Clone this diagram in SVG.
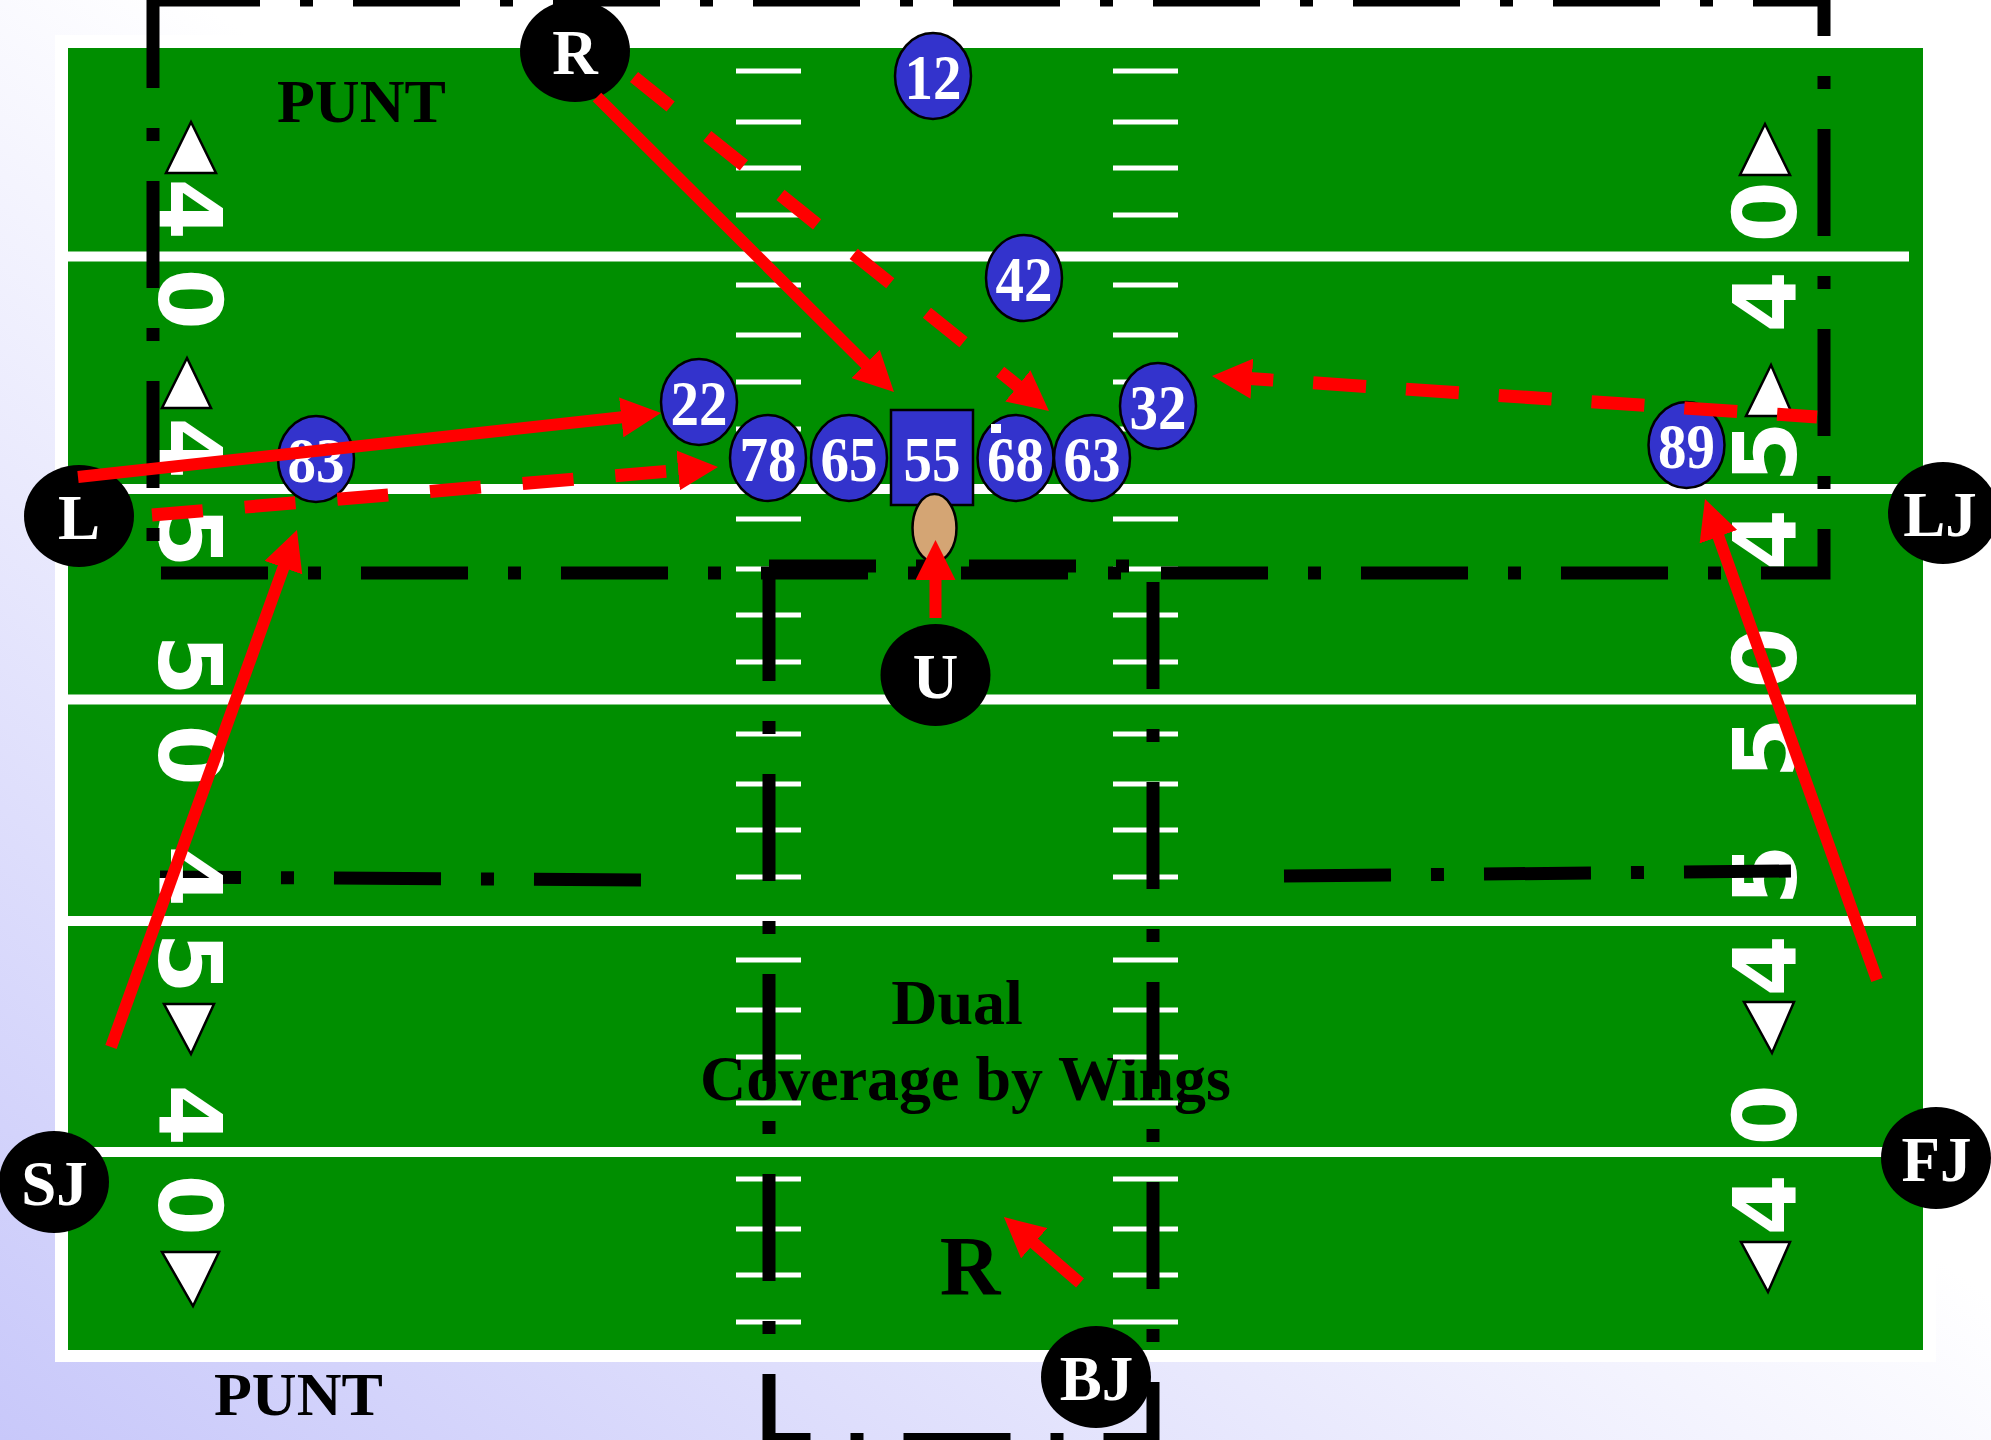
<svg xmlns="http://www.w3.org/2000/svg" width="1991" height="1440" viewBox="0 0 1991 1440">
<defs>
<linearGradient id="bg" x1="0" y1="1" x2="1" y2="0">
<stop offset="0" stop-color="#C8C8FA"/>
<stop offset="0.55" stop-color="#FFFFFF"/>
<stop offset="1" stop-color="#FFFFFF"/>
</linearGradient>
<marker id="ah" markerUnits="userSpaceOnUse" viewBox="0 0 40 40" markerWidth="40" markerHeight="40" refX="10" refY="20" orient="auto">
<path d="M0,0 L40,20 L0,40 z" fill="#FF0000"/>
</marker>
</defs>
<style>
.yl{stroke:#fff;stroke-width:10;fill:none}
.hash{stroke:#fff;stroke-width:5;fill:none}
.yn{font-family:"DejaVu Sans","Liberation Sans",sans-serif;font-weight:bold;font-size:88px;fill:#fff;text-anchor:middle}
.tri{fill:#fff;stroke:#000;stroke-width:2.5}
.dd{fill:none;stroke:#000;stroke-width:13;stroke-dasharray:107 40 13 40}
.lbl{font-family:"Liberation Serif","Times New Roman",serif;font-weight:bold;fill:#000}
.pl{fill:#3333CC;stroke:#000;stroke-width:2.5}
.pn{font-family:"Liberation Serif","Times New Roman",serif;font-weight:bold;font-size:64px;fill:#fff;text-anchor:middle}
.of{fill:#000}
.on{font-family:"Liberation Serif","Times New Roman",serif;font-weight:bold;font-size:63px;fill:#fff;text-anchor:middle}
.rs{fill:none;stroke:#FF0000;stroke-width:12;marker-end:url(#ah)}
.rd{fill:none;stroke:#FF0000;stroke-width:13;marker-end:url(#ah)}
</style>
<rect x="0" y="0" width="1991" height="1440" fill="url(#bg)"/>
<g id="field">
<rect x="55" y="35" width="1881" height="1327" fill="#fff"/>
<rect x="68" y="48" width="1855" height="1302" fill="#008E00"/>
<text class="lbl" x="277" y="122" font-size="62">PUNT</text>
<text class="lbl" x="214" y="1415" font-size="62">PUNT</text>
<text class="lbl" x="957" y="1024" font-size="64" text-anchor="middle">Dual</text>
<text class="lbl" x="965.5" y="1100" font-size="64" text-anchor="middle">Coverage by Wings</text>
<text class="lbl" x="970" y="1295" font-size="84" text-anchor="middle">R</text>
<path class="yl" d="M68,256.5 H1909 M68,489 H1923 M68,699.5 H1916 M68,921 H1916 M68,1152 H1916"/>
<path class="hash" d="M736,71 H801 M1113,71 H1178 M736,122 H801 M1113,122 H1178 M736,168 H801 M1113,168 H1178 M736,215 H801 M1113,215 H1178 M736,285 H801 M1113,285 H1178 M736,335 H801 M1113,335 H1178 M736,382 H801 M1113,382 H1178 M736,429 H801 M1113,429 H1178 M736,519 H801 M1113,519 H1178 M736,569 H801 M1113,569 H1178 M736,615 H801 M1113,615 H1178 M736,662 H801 M1113,662 H1178 M736,734 H801 M1113,734 H1178 M736,784 H801 M1113,784 H1178 M736,830 H801 M1113,830 H1178 M736,877 H801 M1113,877 H1178 M736,960 H801 M1113,960 H1178 M736,1010 H801 M1113,1010 H1178 M736,1057 H801 M1113,1057 H1178 M736,1103 H801 M1113,1103 H1178 M736,1179 H801 M1113,1179 H1178 M736,1229 H801 M1113,1229 H1178 M736,1275 H801 M1113,1275 H1178 M736,1322 H801 M1113,1322 H1178"/>
<path class="dd" d="M160,877 L641,880" stroke-dashoffset="26"/>
<g id="numbers-left">
<text class="yn" transform="translate(190.5,209) rotate(90)" y="32">4</text>
<text class="yn" transform="translate(190.5,299) rotate(90)" y="32">0</text>
<text class="yn" transform="translate(190.5,448) rotate(90)" y="32">4</text>
<text class="yn" transform="translate(190.5,537) rotate(90)" y="32">5</text>
<text class="yn" transform="translate(190.5,665) rotate(90)" y="32">5</text>
<text class="yn" transform="translate(190.5,755) rotate(90)" y="32">0</text>
<text class="yn" transform="translate(190.5,876) rotate(90)" y="32">4</text>
<text class="yn" transform="translate(190.5,963) rotate(90)" y="32">5</text>
<text class="yn" transform="translate(190.5,1115) rotate(90)" y="32">4</text>
<text class="yn" transform="translate(190.5,1205) rotate(90)" y="32">0</text>
</g>
<g id="numbers-right">
<text class="yn" transform="translate(1764,212) rotate(-90)" y="32">0</text>
<text class="yn" transform="translate(1764,302) rotate(-90)" y="32">4</text>
<text class="yn" transform="translate(1764,452) rotate(-90)" y="32">5</text>
<text class="yn" transform="translate(1764,540) rotate(-90)" y="32">4</text>
<text class="yn" transform="translate(1764,658) rotate(-90)" y="32">0</text>
<text class="yn" transform="translate(1764,748) rotate(-90)" y="32">5</text>
<text class="yn" transform="translate(1764,875) rotate(-90)" y="32">5</text>
<text class="yn" transform="translate(1764,966) rotate(-90)" y="32">4</text>
<text class="yn" transform="translate(1764,1115) rotate(-90)" y="32">0</text>
<text class="yn" transform="translate(1764,1205) rotate(-90)" y="32">4</text>
</g>
<g id="arrows-field">
<polygon class="tri" points="191,122 216,173 166,173"/>
<polygon class="tri" points="187,358 211,408 162,408"/>
<polygon class="tri" points="164,1004 214,1004 191,1054"/>
<polygon class="tri" points="162,1252 219,1252 193,1306"/>
<polygon class="tri" points="1765,124 1790,175 1740,175"/>
<polygon class="tri" points="1771,365 1793,416 1746,416"/>
<polygon class="tri" points="1744,1002 1794,1002 1772,1053"/>
<polygon class="tri" points="1741,1242 1790,1242 1768,1292"/>
</g>
<path class="dd" d="M153,0 H1824 V573 H153 V0"/>
<path class="dd" d="M769,566 H1153 V1439.5 H769 V566"/>
<path class="dd" d="M1284,876 L1791,871"/>
</g>
<g id="p12"><ellipse class="pl" cx="933" cy="76" rx="38" ry="43"/><text class="pn" x="933" y="99" textLength="57" lengthAdjust="spacingAndGlyphs">12</text></g>
<g id="p42"><ellipse class="pl" cx="1024" cy="278" rx="38" ry="43"/><text class="pn" x="1024" y="301" textLength="57" lengthAdjust="spacingAndGlyphs">42</text></g>
<g id="p22"><ellipse class="pl" cx="699" cy="402" rx="38" ry="43"/><text class="pn" x="699" y="425" textLength="57" lengthAdjust="spacingAndGlyphs">22</text></g>
<g id="p78"><ellipse class="pl" cx="768" cy="458" rx="38" ry="43"/><text class="pn" x="768" y="481" textLength="57" lengthAdjust="spacingAndGlyphs">78</text></g>
<g id="p65"><ellipse class="pl" cx="849" cy="458" rx="38" ry="43"/><text class="pn" x="849" y="481" textLength="57" lengthAdjust="spacingAndGlyphs">65</text></g>
<g id="p55"><rect class="pl" x="891" y="410" width="82" height="95"/><text class="pn" x="932" y="481" textLength="57" lengthAdjust="spacingAndGlyphs">55</text></g>
<g id="p68"><ellipse class="pl" cx="1015.5" cy="458" rx="38" ry="43"/><text class="pn" x="1015.5" y="481" textLength="57" lengthAdjust="spacingAndGlyphs">68</text><rect x="991" y="424" width="10" height="9" fill="#fff"/></g>
<g id="p63"><ellipse class="pl" cx="1092" cy="458" rx="38" ry="43"/><text class="pn" x="1092" y="481" textLength="57" lengthAdjust="spacingAndGlyphs">63</text></g>
<g id="p32"><ellipse class="pl" cx="1158" cy="406" rx="38" ry="43"/><text class="pn" x="1158" y="429" textLength="57" lengthAdjust="spacingAndGlyphs">32</text></g>
<g id="p83"><ellipse class="pl" cx="316" cy="459" rx="38" ry="43"/><text class="pn" x="316" y="482" textLength="57" lengthAdjust="spacingAndGlyphs">83</text></g>
<g id="p89"><ellipse class="pl" cx="1686.5" cy="445" rx="38" ry="43"/><text class="pn" x="1686.5" y="468" textLength="57" lengthAdjust="spacingAndGlyphs">89</text></g>
<g id="ball"><ellipse cx="934.5" cy="528" rx="22" ry="34" fill="#D4A574" stroke="#000" stroke-width="2.5"/></g>
<g id="oR"><ellipse class="of" cx="575" cy="51" rx="55" ry="51"/><text class="on" x="575" y="74">R</text></g>
<g id="oL"><ellipse class="of" cx="79" cy="516" rx="55" ry="51"/><text class="on" x="79" y="539">L</text></g>
<g id="oLJ"><ellipse class="of" cx="1943" cy="513" rx="55" ry="51"/><text class="on" x="1940" y="536">LJ</text></g>
<g id="oU"><ellipse class="of" cx="935.5" cy="675" rx="55" ry="51"/><text class="on" x="935.5" y="698">U</text></g>
<g id="oSJ"><ellipse class="of" cx="54" cy="1182" rx="55" ry="51"/><text class="on" x="54.5" y="1205">SJ</text></g>
<g id="oFJ"><ellipse class="of" cx="1936" cy="1158" rx="55" ry="51"/><text class="on" x="1936.5" y="1181">FJ</text></g>
<g id="oBJ"><ellipse class="of" cx="1096" cy="1377" rx="55" ry="51"/><text class="on" x="1096.5" y="1400">BJ</text></g>
<g id="connectors">
<path class="rs" d="M597,97 L872.7,370.9"/>
<path class="rd" d="M634,77 L1025.6,392.2" stroke-dasharray="47 47"/>
<path class="rs" d="M78,477 L631.2,416.3"/>
<path class="rd" d="M152,515 L688.1,469.5" stroke-dasharray="51 42"/>
<path class="rd" d="M1817,417 L1241.9,378" stroke-dasharray="53 40" stroke-dashoffset="13"/>
<path class="rs" d="M111,1047 L286.8,558.2"/>
<path class="rs" d="M1877,980 L1715.1,527.3"/>
<path class="rs" d="M935.5,618 L935.5,570"/>
<path class="rs" d="M1080,1283 L1026.6,1236.7"/>
</g>
</svg>
